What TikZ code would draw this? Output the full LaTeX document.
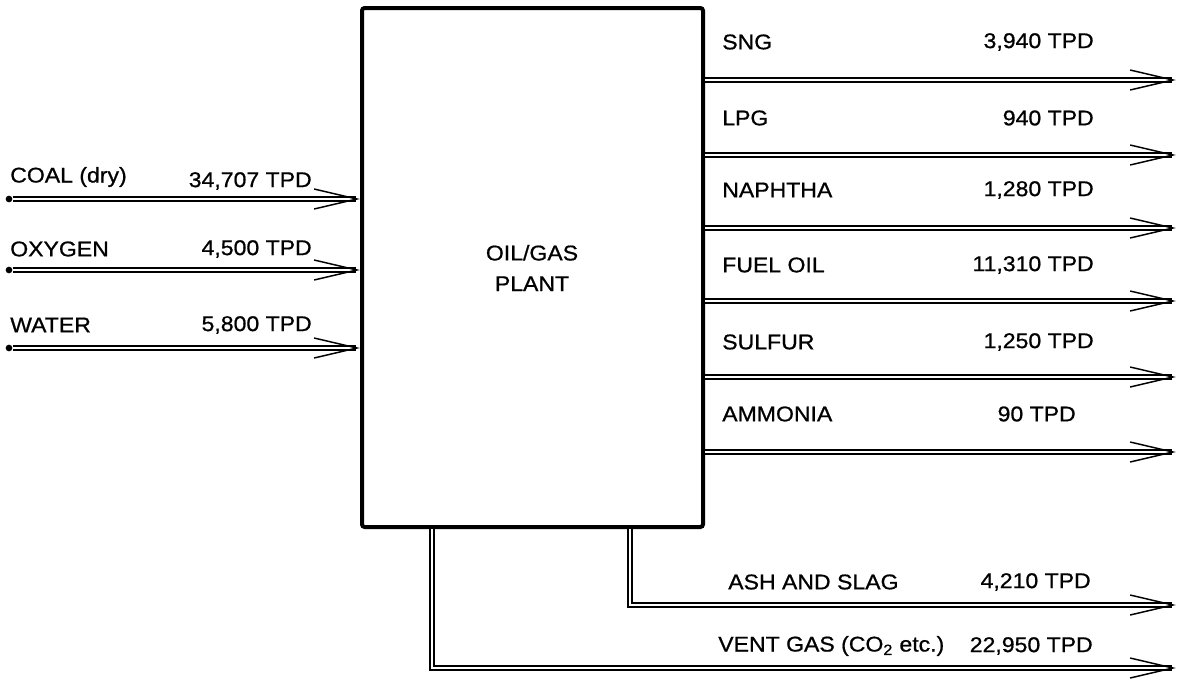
\documentclass[tikz,border=0pt]{standalone}
\usepackage{fontspec}
\setmainfont{Liberation Sans}[FakeStretch=1.08,FakeBold=0.8]
\usetikzlibrary{arrows.meta,fit}
\begin{document}
\begin{tikzpicture}[x=0.75pt,y=-0.75pt,
  flow/.style={line width=1.2pt, double=white, double distance=2pt,
    -{Straight Barb[length=32pt,width=15pt,line width=1.1pt]}},
  lbl/.style={font=\fontsize{16}{18}\selectfont, inner sep=0pt},
  lname/.style={lbl, anchor=west},
  lval/.style={lbl, anchor=east},
  dot/.style={circle, fill=black, inner sep=0pt, minimum size=5pt}]
\useasboundingbox (0,0) rectangle (1178,679);
% plant box
\coordinate (p1) at (362,8);
\coordinate (p2) at (703,527);
\node[draw, line width=3pt, rounded corners=2pt, fit=(p1)(p2), inner sep=0pt] (plant) {};
\node[lbl, align=center, font=\fontsize{16}{23}\selectfont] (ptext) at (532,268) {OIL/GAS\\PLANT};
% inputs
\node[dot] (coal) at (9,199) {};
\node[dot] (oxy) at (9,270) {};
\node[dot] (water) at (9,348) {};
\draw[flow] (coal) -- (coal -| plant.west);
\draw[flow] (oxy) -- (oxy -| plant.west);
\draw[flow] (water) -- (water -| plant.west);
\node[lname] (coaln) at (10,177) {COAL (dry)};
\node[lval] (coalv) at (312,181) {34,707 TPD};
\node[lname] (oxyn) at (10,249) {OXYGEN};
\node[lval] (oxyv) at (312,249) {4,500 TPD};
\node[lname] (watern) at (10,325) {WATER};
\node[lval] (waterv) at (312,325) {5,800 TPD};
% outputs
\coordinate (sng) at (1176,80);
\coordinate (lpg) at (1176,155);
\coordinate (nap) at (1176,228);
\coordinate (fuel) at (1176,301);
\coordinate (sul) at (1176,377);
\coordinate (amm) at (1176,452);
\draw[flow] (sng -| plant.east) -- (sng);
\draw[flow] (lpg -| plant.east) -- (lpg);
\draw[flow] (nap -| plant.east) -- (nap);
\draw[flow] (fuel -| plant.east) -- (fuel);
\draw[flow] (sul -| plant.east) -- (sul);
\draw[flow] (amm -| plant.east) -- (amm);
\node[lname] (sngn) at (722,42) {SNG};
\node[lval] (sngv) at (1094,42) {3,940 TPD};
\node[lname] (lpgn) at (722,118) {LPG};
\node[lval] (lpgv) at (1094,118) {940 TPD};
\node[lname] (napn) at (722,190) {NAPHTHA};
\node[lval] (napv) at (1094,190) {1,280 TPD};
\node[lname] (fueln) at (722,265) {FUEL OIL};
\node[lval] (fuelv) at (1094,265) {11,310 TPD};
\node[lname] (suln) at (722,342) {SULFUR};
\node[lval] (sulv) at (1094,342) {1,250 TPD};
\node[lname] (ammn) at (722,414) {AMMONIA};
\node[lval] (ammv) at (1076,414) {90 TPD};
% bottom outputs
\coordinate (ashx) at (630,0);
\coordinate (ash) at (1176,605);
\coordinate (ventx) at (432,0);
\coordinate (vent) at (1176,668);
\draw[flow] (plant.south -| ashx) |- (ash);
\draw[flow] (plant.south -| ventx) |- (vent);
\node[lname] (ashn) at (728,582) {ASH AND SLAG};
\node[lval] (ashv) at (1091,582) {4,210 TPD};
\node[lname] (ventn) at (718,646) {VENT GAS (CO\textsubscript{2} etc.)};
\node[lval] (ventv) at (1093,646) {22,950 TPD};
\end{tikzpicture}
\end{document}
